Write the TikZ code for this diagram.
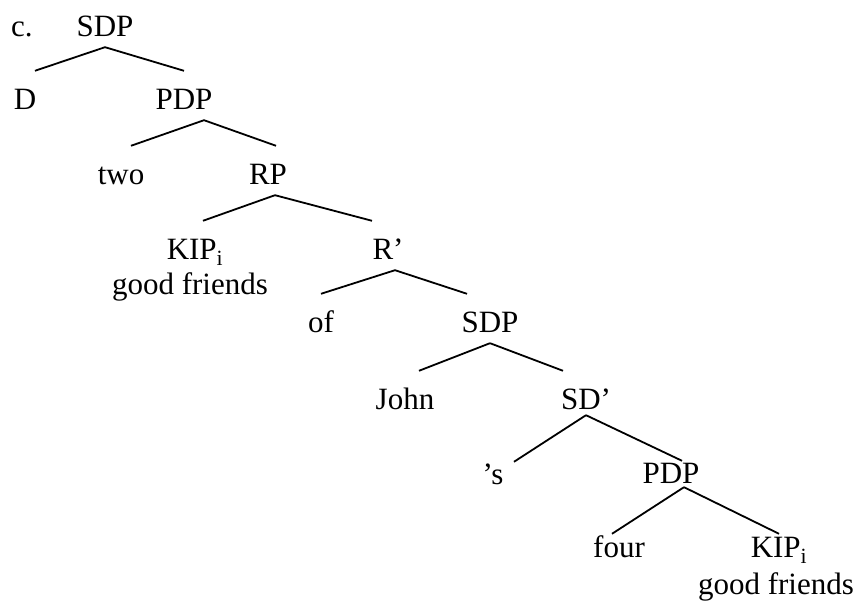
\documentclass[tikz,border=0pt]{standalone}
\usepackage{fontspec}
\setmainfont{Liberation Serif}
\usepackage{tikz}

\tikzset{
    lab/.style={anchor=base, inner sep=0pt, text height=39pt, text depth=10pt},
    low/.style={lab, text height=23pt},
    branch/.style={line width=1.8pt}
}

\begin{document}
\begin{tikzpicture}[x=1pt, y=1pt, font=\fontsize{31}{36}\selectfont]
                \useasboundingbox (0,0) rectangle (857,601);
                \node[anchor=base west, inner sep=0pt](ex) at (11,564){c.};
                \node[lab](sdpA) at (105,564){SDP};
                \node[lab](d) at (25,491){D};
                \node[lab](pdpA) at (184,491){PDP};
                \node[lab](two) at (121,416){two};
                \node[lab](rp) at (268,416){RP};
                \node[lab](kipA) at (195,341){KIP\textsubscript{i}};
                \node[anchor=base, inner sep=0pt](gfA) at (190,306){good friends};
                \node[lab](rbar) at (388,341){R’};
                \node[lab](of) at (321,268){of};
                \node[lab](sdpB) at (490,268){SDP};
                \node[lab](john) at (405,191){John};
                \node[lab, text depth=5pt](sdbar) at (586,191){SD’};
                \node[low](poss) at (493,116){’s};
                \node[low, text depth=3pt](pdpB) at (671,117){PDP};
                \node[low, text height=24pt](four) at (619,43){four};
                \node[low, text height=24pt](kipB) at (779,43){KIP\textsubscript{i}};
                \node[anchor=base, inner sep=0pt](gfB) at (776,6){good friends};
                % branches
                \draw[branch] (sdpA.south) -- ([xshift=10pt]d.north);
                \draw[branch] (sdpA.south) -- (pdpA.north);
                \draw[branch] ([xshift=20pt]pdpA.south) -- ([xshift=10pt]two.north);
                \draw[branch] ([xshift=20pt]pdpA.south) -- ([xshift=8pt]rp.north);
                \draw[branch] ([xshift=7pt]rp.south) -- ([xshift=8pt]kipA.north);
                \draw[branch] ([xshift=7pt]rp.south) -- ([xshift=-16pt]rbar.north);
                \draw[branch] ([xshift=7pt]rbar.south) -- (of.north);
                \draw[branch] ([xshift=7pt]rbar.south) -- ([xshift=-23pt]sdpB.north);
                \draw[branch] (sdpB.south) -- ([xshift=14pt]john.north);
                \draw[branch] (sdpB.south) -- ([xshift=-23pt]sdbar.north);
                \draw[branch] (sdbar.south) -- ([xshift=21pt]poss.north);
                \draw[branch] (sdbar.south) -- ([xshift=11pt]pdpB.north);
                \draw[branch] ([xshift=13pt]pdpB.south) -- ([xshift=-7pt]four.north);
                \draw[branch] ([xshift=13pt]pdpB.south) -- (kipB.north);
\end{tikzpicture}
\end{document}
